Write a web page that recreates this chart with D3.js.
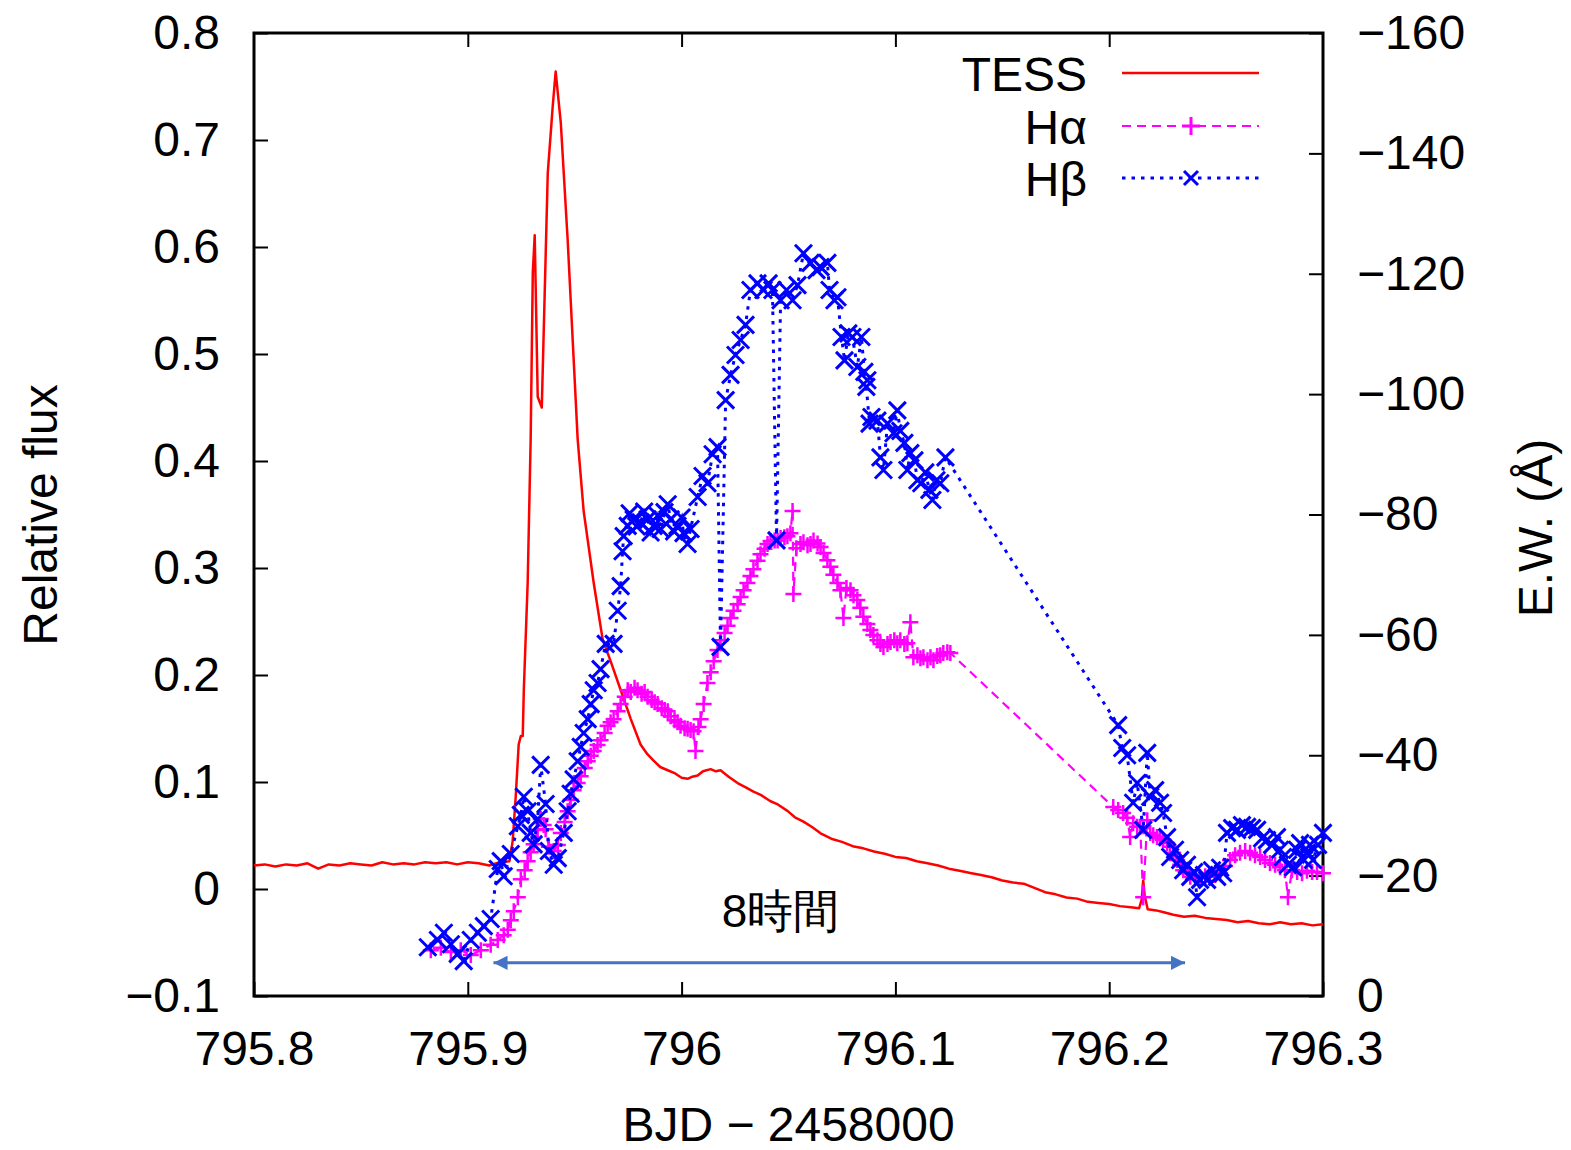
<!DOCTYPE html>
<html lang="en">
<head>
<meta charset="UTF-8">
<title>TESS flare with H-alpha and H-beta</title>
<style>
  body { margin: 0; background: #fff; }
  text { font-family: "Liberation Sans", Arial, Helvetica, sans-serif; }
</style>
<script src="https://d3js.org/d3.v7.min.js"></script>
</head>
<body>
<script>
// ---- data ----
const xTicks = [795.8, 795.9, 796.0, 796.1, 796.2, 796.3];
const fluxTicks = [-0.1, 0, 0.1, 0.2, 0.3, 0.4, 0.5, 0.6, 0.7, 0.8];
const ewTicks = [0, -20, -40, -60, -80, -100, -120, -140, -160];
const seriesNames = ["TESS", "Hα", "Hβ"];

// TESS relative flux
const tessTime = [795.800,795.805,795.810,795.815,795.820,795.825,795.830,795.835,795.840,795.845,
  795.850,795.855,795.860,795.865,795.870,795.875,795.880,795.885,795.890,795.895,
  795.900,795.905,795.910,795.915,795.9195,795.9210,795.9224,795.9238,795.9248,795.9257,
  795.9262,795.9280,795.9294,795.9304,795.9313,795.9327,795.9346,795.9374,795.9397,795.9411,
  795.9435,795.9467,795.9514,795.9542,795.9589,795.9631,795.9668,795.9715,795.9762,795.9808,
  795.9840,795.9869,795.9900,795.9935,795.9970,796.0000,796.0028,796.0050,796.0075,796.0100,
  796.0136,796.0160,796.0182,796.0220,796.0262,796.0300,796.0336,796.0370,796.0416,796.0450,
  796.0495,796.0530,796.0570,796.0610,796.0650,796.0700,796.0750,796.0800,796.0850,796.0900,
  796.0950,796.1000,796.1050,796.1100,796.1150,796.1200,796.1250,796.1300,796.1350,796.1400,
  796.1450,796.1500,796.1550,796.1600,796.1650,796.1700,796.1750,796.1800,796.1850,796.1900,
  796.1950,796.2000,796.2050,796.2100,796.2140,796.2152,796.2159,796.2166,796.2180,796.2220,
  796.2260,796.2300,796.2350,796.2400,796.2450,796.2500,796.2550,796.2600,796.2650,796.2700,
  796.2750,796.2800,796.2850,796.2900,796.2950,796.3000];
const tessFlux = [0.022,0.023,0.021,0.023,0.022,0.024,0.019,0.023,0.022,0.024,
  0.023,0.022,0.025,0.023,0.024,0.023,0.025,0.024,0.025,0.023,
  0.025,0.024,0.022,0.025,0.026,0.045,0.086,0.135,0.143,0.143,
  0.186,0.286,0.420,0.576,0.611,0.460,0.450,0.669,0.731,0.764,
  0.716,0.607,0.420,0.353,0.286,0.233,0.213,0.186,0.159,0.135,
  0.126,0.120,0.114,0.111,0.108,0.104,0.103,0.105,0.106,0.110,
  0.112,0.110,0.111,0.105,0.099,0.095,0.091,0.088,0.082,0.079,
  0.073,0.067,0.063,0.058,0.052,0.047,0.044,0.040,0.038,0.035,
  0.033,0.030,0.029,0.026,0.024,0.022,0.019,0.017,0.015,0.013,
  0.011,0.008,0.006,0.005,0.001,-0.003,-0.005,-0.008,-0.009,-0.012,
  -0.013,-0.014,-0.016,-0.017,-0.018,-0.010,0.008,-0.006,-0.019,-0.020,
  -0.022,-0.024,-0.026,-0.025,-0.027,-0.028,-0.029,-0.031,-0.030,-0.032,
  -0.033,-0.031,-0.033,-0.032,-0.034,-0.033];

// H-alpha equivalent width (Å)
const haTime = [795.8827,795.8874,795.8921,795.8967,795.9014,795.9061,795.9107,795.9140,795.9168,795.9187,
  795.9201,795.9215,795.9234,795.9248,795.9266,795.9280,795.9294,795.9308,795.9327,795.9341,
  795.9355,795.9364,795.9379,795.9402,795.9421,795.9435,795.9453,795.9467,795.9481,795.9495,
  795.9514,795.9528,795.9547,795.9561,795.9575,795.9589,795.9607,795.9621,795.9640,795.9654,
  795.9668,795.9682,795.9701,795.9715,795.9734,795.9748,795.9762,795.9780,795.9794,795.9813,
  795.9827,795.9841,795.9860,795.9874,795.9888,795.9907,795.9921,795.9935,795.9949,795.9967,
  795.9981,795.9995,796.0014,796.0028,796.0042,796.0056,796.0065,796.0079,796.0089,796.0103,
  796.0121,796.0136,796.0150,796.0168,796.0182,796.0201,796.0215,796.0229,796.0243,796.0262,
  796.0276,796.0290,796.0308,796.0322,796.0336,796.0355,796.0369,796.0388,796.0402,796.0416,
  796.0435,796.0449,796.0463,796.0481,796.0495,796.0509,796.0519,796.0523,796.0537,796.0556,
  796.0570,796.0589,796.0603,796.0617,796.0636,796.0650,796.0664,796.0682,796.0696,796.0710,
  796.0729,796.0743,796.0757,796.0771,796.0790,796.0804,796.0822,796.0836,796.0850,796.0869,
  796.0883,796.0897,796.0916,796.0930,796.0944,796.0963,796.0977,796.0995,796.1009,796.1023,
  796.1042,796.1056,796.1070,796.1084,796.1103,796.1117,796.1131,796.1150,796.1164,796.1178,
  796.1196,796.1210,796.1224,796.1243,796.1257,
  796.2019,796.2042,796.2065,796.2084,796.2098,796.2112,796.2131,796.2145,796.2159,796.2178,
  796.2192,796.2206,796.2224,796.2238,796.2252,796.2271,796.2285,796.2299,796.2318,796.2332,
  796.2346,796.2364,796.2379,796.2402,796.2425,796.2449,796.2472,796.2495,796.2519,796.2542,
  796.2565,796.2589,796.2612,796.2636,796.2659,796.2682,796.2706,796.2729,796.2752,796.2776,
  796.2799,796.2822,796.2836,796.2855,796.2879,796.2902,796.2925,796.2949,796.2972,796.3000];
const haEW = [-7.6,-8.0,-7.3,-7.6,-6.8,-7.6,-8.5,-9.3,-10.1,-11.0,
  -12.6,-14.1,-16.4,-19.4,-20.9,-22.4,-23.9,-25.2,-27.6,-29.4,
  -28.4,-27.7,-24.8,-24.1,-25.1,-27.1,-28.9,-30.7,-32.6,-34.2,
  -35.4,-36.5,-37.9,-39.0,-39.9,-40.7,-41.7,-42.5,-43.7,-44.9,
  -45.5,-46.0,-47.3,-48.5,-49.7,-50.8,-50.5,-51.2,-50.8,-50.2,
  -50.5,-49.7,-49.2,-48.8,-48.5,-47.8,-47.5,-47.3,-46.5,-45.8,
  -45.5,-44.9,-44.5,-44.4,-44.2,-44.0,-40.7,-44.7,-46.0,-48.5,
  -52.0,-53.8,-55.6,-57.5,-59.1,-60.3,-61.5,-62.8,-64.0,-65.1,
  -66.3,-67.4,-68.6,-69.8,-70.9,-72.3,-73.4,-74.3,-75.1,-75.6,
  -75.7,-75.7,-76.1,-76.2,-76.4,-76.9,-80.6,-66.8,-74.4,-75.1,
  -75.4,-74.9,-75.1,-75.7,-75.2,-74.6,-73.6,-72.4,-71.3,-70.0,
  -68.6,-67.4,-62.8,-67.8,-67.4,-66.6,-65.8,-64.5,-63.0,-61.8,
  -60.8,-60.0,-59.1,-58.5,-58.0,-58.5,-58.8,-59.1,-58.6,-59.1,
  -58.5,-58.6,-62.1,-56.3,-56.6,-56.1,-56.3,-55.8,-56.3,-55.8,
  -56.5,-56.6,-57.0,-57.1,-57.0,
  -31.4,-30.9,-30.4,-29.6,-26.4,-28.7,-28.1,-28.1,-16.4,-29.2,
  -27.1,-26.7,-26.4,-26.2,-25.9,-25.4,-24.8,-23.8,-22.6,-21.8,
  -20.9,-20.4,-19.8,-19.6,-19.8,-19.9,-19.8,-20.1,-20.4,-21.6,
  -22.6,-23.4,-23.8,-24.1,-23.8,-23.4,-23.1,-22.6,-22.1,-21.8,
  -21.4,-20.9,-16.4,-20.9,-20.6,-20.4,-20.8,-20.6,-20.6,-20.4];

// H-beta equivalent width (Å)
const hbTime = [795.8813,795.8860,795.8888,795.8921,795.8953,795.8981,795.9014,795.9047,795.9075,795.9107,
  795.9140,795.9154,795.9168,795.9201,795.9234,795.9248,795.9262,795.9280,795.9294,795.9308,
  795.9327,795.9341,795.9364,795.9379,795.9402,795.9421,795.9449,795.9467,795.9481,795.9495,
  795.9514,795.9528,795.9542,795.9561,795.9575,795.9589,795.9607,795.9621,795.9645,795.9682,
  795.9701,795.9715,795.9724,795.9729,795.9748,795.9757,795.9776,795.9790,795.9808,795.9825,
  795.9841,795.9855,795.9869,795.9888,795.9902,795.9920,
  795.9935,795.9949,795.9965,795.9981,796.0000,796.0009,796.0028,796.0042,796.0075,796.0098,
  796.0121,796.0145,796.0168,796.0182,796.0206,796.0229,796.0252,796.0276,796.0299,796.0322,
  796.0355,796.0383,796.0407,796.0425,796.0444,796.0463,796.0491,796.0519,796.0542,796.0570,
  796.0603,796.0631,796.0650,796.0682,796.0692,796.0715,796.0729,796.0748,796.0762,796.0780,
  796.0799,796.0822,796.0841,796.0855,796.0869,796.0864,796.0879,796.0888,796.0916,796.0930,
  796.0944,796.0963,796.0991,796.1009,796.1023,796.1042,796.1056,796.1070,796.1089,796.1103,
  796.1121,796.1140,796.1159,796.1173,796.1192,796.1210,796.1234,
  796.2042,796.2061,796.2084,796.2112,796.2131,796.2159,796.2178,796.2192,796.2215,796.2238,
  796.2252,796.2271,796.2285,796.2308,796.2332,796.2346,796.2364,796.2379,796.2397,796.2411,
  796.2425,796.2444,796.2458,796.2481,796.2505,796.2519,796.2533,796.2551,796.2575,796.2598,
  796.2621,796.2645,796.2668,796.2692,796.2715,796.2738,796.2762,796.2785,796.2799,796.2813,
  796.2836,796.2860,796.2879,796.2893,796.2911,796.2925,796.2939,796.2953,796.2977,796.3000];
const hbEW = [-8.1,-9.3,-10.5,-8.6,-7.0,-5.8,-9.3,-10.5,-11.6,-12.8,
  -21.1,-22.4,-19.9,-23.6,-28.2,-30.1,-33.1,-30.7,-27.1,-25.2,
  -29.4,-38.4,-31.9,-24.1,-21.8,-22.9,-27.1,-30.7,-33.6,-36.0,
  -39.0,-41.4,-43.7,-46.0,-48.5,-50.8,-52.0,-54.3,-58.5,-58.5,
  -64.0,-68.1,-73.9,-76.4,-78.1,-80.2,-79.2,-78.0,-78.7,-80.5,
  -79.2,-77.0,-78.1,-79.8,-77.6,-80.4,
  -81.7,-79.2,-77.2,-78.1,-79.5,-76.9,-75.1,-77.6,-82.9,-86.4,
  -85.2,-90.0,-91.2,-58.0,-99.0,-103.2,-106.5,-109.0,-111.5,-117.3,
  -118.4,-117.3,-118.4,-117.3,-75.7,-115.6,-117.3,-115.6,-118.1,-123.4,
  -121.8,-120.6,-121.1,-121.8,-117.3,-115.6,-116.1,-109.5,-105.6,-110.1,
  -109.5,-104.5,-109.5,-103.7,-102.3,-101.2,-95.1,-96.2,-95.6,-89.5,
  -87.4,-95.1,-93.5,-97.3,-93.9,-91.9,-87.4,-90.2,-89.0,-85.7,
  -85.2,-87.0,-84.1,-82.4,-85.7,-85.2,-89.5,
  -45.0,-41.2,-40.0,-32.1,-35.4,-27.6,-40.4,-33.1,-34.2,-32.1,
  -30.4,-26.4,-23.1,-24.3,-22.6,-20.9,-21.8,-19.8,-20.6,-16.4,
  -19.3,-20.1,-19.3,-20.9,-19.8,-21.3,-20.4,-27.1,-27.9,-27.6,
  -28.4,-28.1,-27.9,-27.6,-26.2,-25.9,-25.1,-26.4,-24.3,-23.1,
  -21.8,-21.4,-24.3,-25.4,-22.6,-23.8,-25.1,-22.6,-25.1,-27.1];

// annotation: duration arrow (BJD) and label
const arrowTimes = [795.912, 796.2355];
const arrowLabel = "8時間";

// ---- drawing ----
const width = 1571, height = 1150;
const margin = {left: 254, right: 1323, top: 33, bottom: 996};

const svg = d3.select("body").append("svg")
  .attr("width", width)
  .attr("height", height);

const x = d3.scaleLinear().domain([795.8, 796.3]).range([margin.left, margin.right]);
const yFlux = d3.scaleLinear().domain([-0.1, 0.8]).range([margin.bottom, margin.top]);
const yEW = d3.scaleLinear().domain([0, -160]).range([margin.bottom, margin.top]);

const fmtX = d => d3.format(".1f")(d).replace(/\.0$/, "");
const fmtFlux = d => Math.abs(d) < 1e-9 ? "0" : d3.format(".1f")(d);

//axes, ticks point inward
svg.append("g")
  .attr("transform", "translate(0," + margin.bottom + ")")
  .call(d3.axisBottom(x).tickValues(xTicks).tickFormat(fmtX).tickSizeInner(-14).tickSizeOuter(0).tickPadding(35));
svg.append("g")
  .attr("transform", "translate(0," + margin.top + ")")
  .call(d3.axisTop(x).tickValues(xTicks.slice(1, -1)).tickFormat("").tickSizeInner(-14).tickSizeOuter(0));
svg.append("g")
  .attr("transform", "translate(" + margin.left + ",0)")
  .call(d3.axisLeft(yFlux).tickValues(fluxTicks).tickFormat(fmtFlux).tickSizeInner(-14).tickSizeOuter(0).tickPadding(34));
svg.append("g")
  .attr("transform", "translate(" + margin.right + ",0)")
  .call(d3.axisRight(yEW).tickValues(ewTicks).tickFormat(d3.format("d")).tickSizeInner(-14).tickSizeOuter(0).tickPadding(34));

svg.selectAll(".domain").remove();
svg.selectAll(".tick line").attr("stroke", "#000").attr("stroke-width", 2);
svg.selectAll(".tick text")
  .attr("font-family", "Liberation Sans, Arial, sans-serif")
  .attr("font-size", 48)
  .attr("fill", "#000");

//frame
svg.append("rect")
  .attr("x", margin.left)
  .attr("y", margin.top)
  .attr("width", margin.right - margin.left)
  .attr("height", margin.bottom - margin.top)
  .attr("fill", "none")
  .attr("stroke", "#000")
  .attr("stroke-width", 3);

//axis titles
svg.append("text")
  .attr("x", (margin.left + margin.right) / 2)
  .attr("y", 1141)
  .attr("text-anchor", "middle")
  .attr("font-size", 48)
  .text("BJD − 2458000");
svg.append("text")
  .attr("transform", "translate(57,515) rotate(-90)")
  .attr("text-anchor", "middle")
  .attr("font-size", 48)
  .text("Relative flux");
svg.append("text")
  .attr("transform", "translate(1552,528) rotate(-90)")
  .attr("text-anchor", "middle")
  .attr("font-size", 48)
  .text("E.W. (Å)");

//series
const tessData = tessTime.map((t, i) => ({t: t, v: tessFlux[i]}));
const haData = haTime.map((t, i) => ({t: t, v: haEW[i]}));
const hbData = hbTime.map((t, i) => ({t: t, v: hbEW[i]}));

const plot = svg.append("g");

plot.append("path")
  .datum(tessData)
  .attr("fill", "none")
  .attr("stroke", "#ff0000")
  .attr("stroke-width", 2.5)
  .attr("stroke-linejoin", "round")
  .attr("d", d3.line().x(d => x(d.t)).y(d => yFlux(d.v)));

const plusPath = "M-8,0H8M0,-8V8";
const crossPath = "M-8.5,-8.5L8.5,8.5M-8.5,8.5L8.5,-8.5";

plot.append("path")
  .datum(haData)
  .attr("fill", "none")
  .attr("stroke", "#ff00ff")
  .attr("stroke-width", 2.2)
  .attr("stroke-dasharray", "9,6")
  .attr("d", d3.line().x(d => x(d.t)).y(d => yEW(d.v)));
plot.selectAll(".ha")
  .data(haData)
  .join("path")
  .attr("class", "ha")
  .attr("transform", d => "translate(" + x(d.t) + "," + yEW(d.v) + ")")
  .attr("d", plusPath)
  .attr("stroke", "#ff00ff")
  .attr("stroke-width", 2.5)
  .attr("fill", "none");

plot.append("path")
  .datum(hbData)
  .attr("fill", "none")
  .attr("stroke", "#0000ff")
  .attr("stroke-width", 3)
  .attr("stroke-dasharray", "3.5,6")
  .attr("d", d3.line().x(d => x(d.t)).y(d => yEW(d.v)));
plot.selectAll(".hb")
  .data(hbData)
  .join("path")
  .attr("class", "hb")
  .attr("transform", d => "translate(" + x(d.t) + "," + yEW(d.v) + ")")
  .attr("d", crossPath)
  .attr("stroke", "#0000ff")
  .attr("stroke-width", 3)
  .attr("fill", "none");

//legend
const legendY = [73, 126, 178];
const legendStyle = [
  {color: "#ff0000", dash: null, width: 2.5, marker: null},
  {color: "#ff00ff", dash: "9,6", width: 2.2, marker: "M-9,0H9M0,-9V9"},
  {color: "#0000ff", dash: "3.5,6", width: 3, marker: "M-7,-7L7,7M-7,7L7,-7"}
];
seriesNames.forEach((name, i) => {
  const s = legendStyle[i];
  svg.append("text")
    .attr("x", 1087)
    .attr("y", legendY[i] + 18)
    .attr("text-anchor", "end")
    .attr("font-size", 48)
    .text(name);
  svg.append("line")
    .attr("x1", 1122).attr("x2", 1259)
    .attr("y1", legendY[i]).attr("y2", legendY[i])
    .attr("stroke", s.color)
    .attr("stroke-width", s.width)
    .attr("stroke-dasharray", s.dash);
  if (s.marker) {
    svg.append("path")
      .attr("transform", "translate(1191," + legendY[i] + ")")
      .attr("d", s.marker)
      .attr("stroke", s.color)
      .attr("stroke-width", 3)
      .attr("fill", "none");
  }
});

//duration arrow
const arrowY = yFlux(-0.069);
const defs = svg.append("defs");
["start", "end"].forEach(k => {
  defs.append("marker")
    .attr("id", "head-" + k)
    .attr("viewBox", "0 0 10 10")
    .attr("refX", k === "end" ? 10 : 0)
    .attr("refY", 5)
    .attr("markerWidth", 5.3)
    .attr("markerHeight", 4.7)
    .attr("markerUnits", "strokeWidth")
    .attr("orient", "auto")
    .append("path")
    .attr("d", k === "end" ? "M0,0L10,5L0,10Z" : "M10,0L0,5L10,10Z")
    .attr("fill", "#4472c4");
});
svg.append("line")
  .attr("x1", x(arrowTimes[0])).attr("x2", x(arrowTimes[1]))
  .attr("y1", arrowY).attr("y2", arrowY)
  .attr("stroke", "#4472c4")
  .attr("stroke-width", 3)
  .attr("marker-start", "url(#head-start)")
  .attr("marker-end", "url(#head-end)");
svg.append("text")
  .attr("x", x(796.0463))
  .attr("y", 927)
  .attr("text-anchor", "middle")
  .attr("font-family", "Noto Sans CJK JP, sans-serif")
  .attr("font-weight", 300)
  .attr("font-size", 46)
  .text(arrowLabel);
</script>
</body>
</html>
